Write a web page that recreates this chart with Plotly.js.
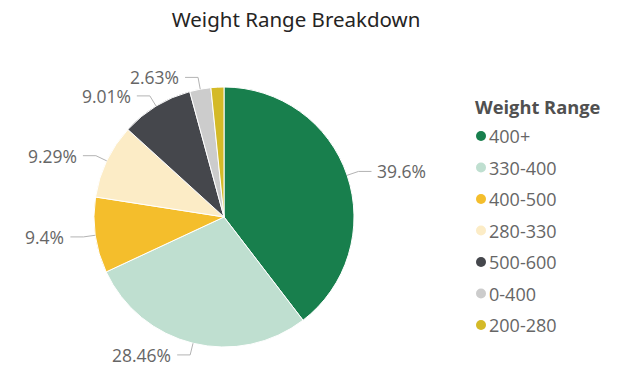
<!DOCTYPE html>
<html><head><meta charset="utf-8">
<script src="https://cdn.plot.ly/plotly-3.0.1.min.js"></script>
<style>html,body{margin:0;padding:0;background:#fff;}#chart{width:623px;height:373px;}</style>
</head><body><div id="chart"></div>
<script>
const categories = ['400+','330-400','400-500','280-330','500-600','0-400','200-280'];
const values = [39.6, 28.46, 9.4, 9.29, 9.01, 2.63, 1.61];
const colors = ['#187F4D','#BFDFD0','#F4BE2C','#FCECC6','#45474C','#CCCCCC','#D4BA28'];
const legendTitle = 'Weight Range';
const chartTitle = 'Weight Range Breakdown';

const W = 623, H = 373;
const cx = 224, cy = 217, R = 130;
const px = x => x / W, py = y => 1 - y / H;
const FONT = 'Segoe UI, "Open Sans", sans-serif';

const shapes = [], annotations = [];
const total = values.reduce((a, b) => a + b, 0);
let cum = 0;
values.forEach((v, i) => {
  const a0 = cum; cum += v;
  if (v < 2) return;
  const mid = ((a0 + v / 2) / total) * 2 * Math.PI;
  const sx = Math.sin(mid), sy = -Math.cos(mid);
  const ex = cx + R * sx, ey = cy + R * sy;
  const bx = cx + (R + 12) * sx, by = cy + (R + 12) * sy;
  const dir = sx >= 0 ? 1 : -1;
  const hx = bx + dir * 13;
  const line = {color: '#B3B3B3', width: 1};
  shapes.push({type: 'line', xref: 'paper', yref: 'paper', x0: px(ex), y0: py(ey), x1: px(bx), y1: py(by), line});
  shapes.push({type: 'line', xref: 'paper', yref: 'paper', x0: px(bx), y0: py(by), x1: px(hx), y1: py(by), line});
  annotations.push({xref: 'paper', yref: 'paper', x: px(hx + dir * 4), y: py(by),
    xanchor: dir > 0 ? 'left' : 'right', yanchor: 'middle', showarrow: false,
    text: v + '%', font: {family: FONT, size: 17.5, color: '#666666'}});
});

// legend
annotations.push({xref: 'paper', yref: 'paper', x: px(473), y: py(107), xanchor: 'left', yanchor: 'middle',
  showarrow: false, text: '<b>' + legendTitle + '</b>', font: {family: FONT, size: 18.3, color: '#505050'}});
categories.forEach((c, i) => {
  const y = 136 + i * 31.5;
  shapes.push({type: 'circle', xref: 'paper', yref: 'paper', x0: px(476), x1: px(486), y0: py(y - 5), y1: py(y + 5),
    fillcolor: colors[i], line: {width: 0}});
  annotations.push({xref: 'paper', yref: 'paper', x: px(487), y: py(y), xanchor: 'left', yanchor: 'middle',
    showarrow: false, text: c, font: {family: FONT, size: 18, color: '#666666'}});
});

const data = [{
  type: 'pie', labels: categories, values: values, sort: false, direction: 'clockwise', rotation: 0,
  marker: {colors: colors, line: {color: '#FFFFFF', width: 1}},
  textinfo: 'none', hoverinfo: 'label+percent', showlegend: false,
  domain: {x: [px(cx - R), px(cx + R)], y: [py(cy + R), py(cy - R)]}
}];

const layout = {
  width: W, height: H, margin: {l: 0, r: 0, t: 0, b: 0},
  paper_bgcolor: '#FFFFFF', showlegend: false,
  title: {text: chartTitle, x: 296 / W, xanchor: 'center', y: 1 - 20 / H, yanchor: 'middle',
    font: {family: 'Segoe UI, "Noto Sans", sans-serif', size: 20.5, color: '#252423'}},
  shapes, annotations
};
Plotly.newPlot('chart', data, layout, {displayModeBar: false, staticPlot: true});
</script></body></html>
